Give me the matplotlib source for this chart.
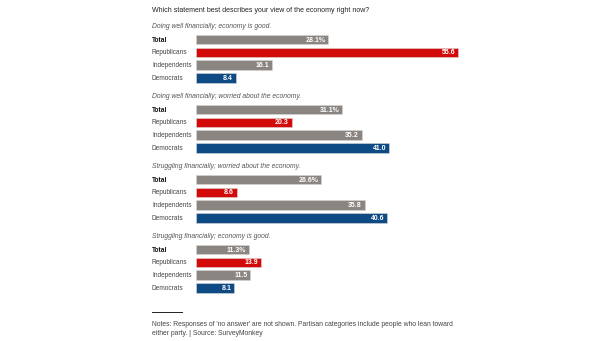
import matplotlib.pyplot as plt

plt.rcParams['font.family'] = ['Liberation Sans', 'DejaVu Sans']

# Survey data (percent)
title = "Which statement best describes your view of the economy right now?"
groups = [
    "Doing well financially; economy is good.",
    "Doing well financially; worried about the economy.",
    "Struggling financially; worried about the economy.",
    "Struggling financially; economy is good.",
]
categories = ["Total", "Republicans", "Independents", "Democrats"]
total = [28.1, 31.1, 26.6, 11.3]
republicans = [55.6, 20.3, 8.6, 13.9]
independents = [16.1, 35.2, 35.8, 11.5]
democrats = [8.4, 41.0, 40.6, 8.1]
notes = ("Notes: Responses of 'no answer' are not shown. Partisan categories include people who lean toward\n"
         "either party. | Source: SurveyMonkey")

colors = ["#8b8581", "#d20a0a", "#8b8581", "#0e4a83"]
series = [total, republicans, independents, democrats]

W, H = 605, 341
fig = plt.figure(figsize=(W / 100, H / 100), dpi=100)
ax = fig.add_axes([0, 0, 1, 1])

# pixel layout: bars start at x=196, 4.71 px per percentage point
x0, scale = 196, 4.71
ax.set_xlim(-x0 / scale, (W - x0) / scale)
ax.set_ylim(H, 0)
ax.axis("off")
lx = -(x0 - 152) / scale

ax.text(lx, 11, title, fontsize=5.0, color="#222222", va="center", ha="left")

for g, name in enumerate(groups):
    top = 26 + g * 70
    ax.text(lx, top, name, fontsize=4.9, style="italic", color="#555555", va="center", ha="left")
    for i, cat in enumerate(categories):
        y = top + 13.5 + i * 12.8
        v = series[i][g]
        ax.barh(y, v, height=9.5, left=0, color=colors[i], edgecolor="#d8d8d8", linewidth=0.4)
        ax.text(lx, y + 0.5, cat, fontsize=4.7, va="center", ha="left",
                color="#111111" if i == 0 else "#444444",
                fontweight="bold" if i == 0 else "normal")
        lab = f"{v:.1f}%" if i == 0 else f"{v:.1f}"
        ax.text(v - 0.6, y + 0.5, lab, fontsize=5, color="white", fontweight="bold",
                va="center", ha="right")

ax.plot([lx, lx + 30 / scale], [311.5, 311.5], color="#222222", linewidth=0.7)
ax.text(lx, 329, notes, fontsize=4.9, color="#444444", va="center", ha="left", linespacing=1.45)

fig.savefig("out.png", dpi=100)
